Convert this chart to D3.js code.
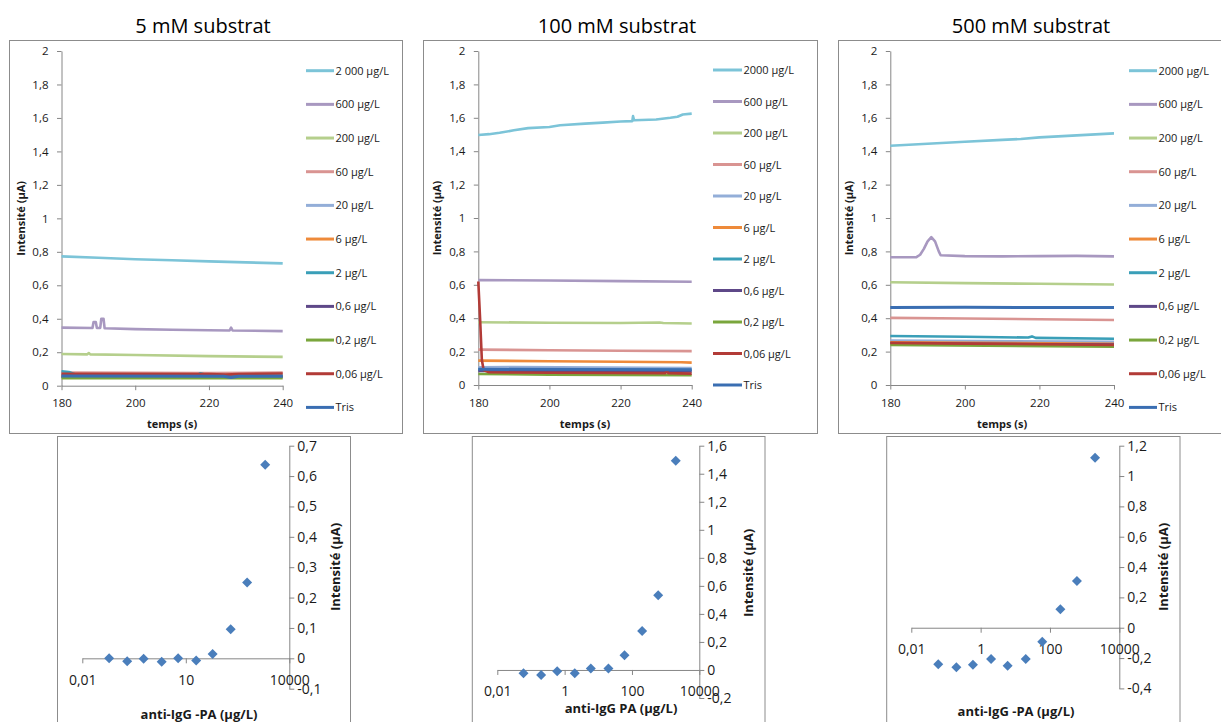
<!DOCTYPE html>
<html><head><meta charset="utf-8">
<script src="https://cdn.jsdelivr.net/npm/d3@7"></script>
<style>body{margin:0;background:#fff} svg{display:block;font-family:"Open Sans",sans-serif}</style>
</head><body><svg id="c" width="1221" height="722"></svg>
<script>
// ---------- DATA ----------
const legendLabels5 = ["2 000 µg/L","600 µg/L","200 µg/L","60 µg/L","20 µg/L","6 µg/L","2 µg/L","0,6 µg/L","0,2 µg/L","0,06 µg/L","Tris"];
const legendLabels = ["2000 µg/L","600 µg/L","200 µg/L","60 µg/L","20 µg/L","6 µg/L","2 µg/L","0,6 µg/L","0,2 µg/L","0,06 µg/L","Tris"];
const seriesColors = ["#7cc4d8","#a898c0","#b5cf8c","#d99492","#93aed8","#ee8a3a","#3a9fb8","#5e4888","#7aa63c","#b23b37","#3a6eb2"];
const yTicksTop = [0,0.2,0.4,0.6,0.8,1,1.2,1.4,1.6,1.8,2];
const xTicksTop = [180,200,220,240];

// 5 mM substrat : [temps (s), intensité (µA)]
const s5_2000 = [[180,0.773],[190,0.765],[200,0.756],[210,0.750],[220,0.743],[230,0.737],[240,0.731]];
const s5_600  = [[180,0.347],[188.4,0.345],[188.7,0.38],[189.3,0.38],[189.6,0.345],[190.5,0.345],[190.8,0.40],[191.4,0.40],[191.7,0.343],[200,0.338],[210,0.334],[220,0.331],[225.6,0.330],[226,0.347],[226.4,0.330],[240,0.326]];
const s5_200  = [[180,0.189],[187,0.187],[187.4,0.195],[187.8,0.187],[200,0.183],[220,0.177],[240,0.172]];
const s5_60   = [[180,0.078],[200,0.077],[220,0.076],[240,0.078]];
const s5_20   = [[180,0.064],[240,0.060]];
const s5_6    = [[180,0.061],[240,0.058]];
const s5_2    = [[180,0.086],[182,0.082],[184,0.066],[200,0.064],[216.8,0.062],[217.6,0.074],[219.4,0.064],[240,0.061]];
const s5_06   = [[180,0.054],[240,0.052]];
const s5_02   = [[180,0.045],[240,0.045]];
const s5_006  = [[180,0.071],[220,0.070],[224.5,0.066],[228,0.070],[240,0.073]];
const s5_tris = [[180,0.058],[224,0.056],[226,0.049],[228,0.056],[240,0.056]];

// 100 mM substrat
const s100_2000 = [[180,1.497],[183,1.502],[186,1.510],[190,1.525],[194,1.538],[200,1.545],[203,1.555],[210,1.565],[215,1.571],[220,1.578],[223.3,1.580],[223.5,1.610],[223.8,1.585],[230,1.590],[234,1.600],[236,1.606],[237.5,1.620],[240,1.625]];
const s100_600  = [[180,0.628],[200,0.626],[220,0.622],[240,0.618]];
const s100_200  = [[180,0.376],[200,0.373],[220,0.371],[231,0.374],[232,0.371],[240,0.368]];
const s100_60   = [[180,0.212],[200,0.208],[220,0.205],[240,0.203]];
const s100_20   = [[180,0.106],[190,0.108],[240,0.102]];
const s100_6    = [[180,0.146],[200,0.142],[220,0.139],[237,0.136],[240,0.134]];
const s100_2    = [[180,0.094],[240,0.090]];
const s100_06   = [[180,0.084],[240,0.081]];
const s100_02   = [[180,0.066],[200,0.062],[240,0.058]];
const s100_006  = [[180,0.620],[180.5,0.400],[181,0.150],[181.5,0.090],[183,0.076],[200,0.073],[232.6,0.071],[233,0.088],[233.4,0.071],[240,0.068]];
const s100_tris = [[180,0.094],[240,0.091]];

// 500 mM substrat
const s500_2000 = [[180,1.433],[190,1.445],[200,1.457],[210,1.468],[215,1.473],[220,1.483],[230,1.495],[240,1.507]];
const s500_600  = [[180,0.765],[187,0.766],[188,0.780],[189,0.815],[190,0.860],[191,0.885],[192,0.860],[193,0.800],[193.5,0.777],[200,0.772],[210,0.770],[220,0.772],[230,0.773],[240,0.770]];
const s500_200  = [[180,0.615],[200,0.610],[220,0.606],[240,0.602]];
const s500_60   = [[180,0.402],[200,0.398],[220,0.394],[240,0.389]];
const s500_20   = [[180,0.266],[240,0.258]];
const s500_6    = [[180,0.256],[240,0.247]];
const s500_2    = [[180,0.293],[200,0.289],[217,0.284],[218,0.291],[219,0.282],[240,0.277]];
const s500_06   = [[180,0.250],[240,0.242]];
const s500_02   = [[180,0.240],[240,0.229]];
const s500_006  = [[180,0.252],[200,0.248],[220,0.244],[240,0.240]];
const s500_tris = [[180,0.464],[200,0.465],[220,0.464],[240,0.464]];

// réponses (bas)
const concentrations = [0.06,0.2,0.6,2,6,20,60,200,600,2000];
const resp5   = [0,-0.010,-0.001,-0.011,0,-0.007,0.014,0.096,0.250,0.637];
const resp100 = [-0.024,-0.036,-0.010,-0.024,0.010,0.010,0.105,0.278,0.533,1.493];
const resp500 = [-0.241,-0.261,-0.244,-0.206,-0.250,-0.206,-0.092,0.121,0.308,1.121];
const yTicks5 = [-0.1,0,0.1,0.2,0.3,0.4,0.5,0.6,0.7];
const yTicks100 = [-0.2,0,0.2,0.4,0.6,0.8,1,1.2,1.4,1.6];
const yTicks500 = [-0.4,-0.2,0,0.2,0.4,0.6,0.8,1,1.2];
const xTicks5 = [0.01,10,10000];
const xTicks100 = [0.01,1,100,10000];

// ---------- DRAW ----------
const svg = d3.select("#c");
const fmt = d => String(+(+d).toFixed(2)).replace('.', ',');
const AX = "#868686";

function styleAxis(sel, fs){
  sel.select(".domain").attr("stroke", AX).attr("stroke-width",1);
  sel.selectAll(".tick line").attr("stroke", AX);
  sel.selectAll(".tick text").attr("fill","#1a1a1a").attr("font-size",fs).attr("font-family","'Open Sans',sans-serif");
}

function drawTop(c){
  const g = svg.append("g");
  g.append("rect").attr("x",c.frame[0]).attr("y",c.frame[1])
    .attr("width",c.frame[2]-c.frame[0]).attr("height",c.frame[3]-c.frame[1])
    .attr("fill","#fff").attr("stroke","#8c8c8c");
  svg.append("text").attr("x",c.titleX).attr("y",33).attr("text-anchor","middle")
    .attr("font-size",20).attr("fill","#000").text(c.title);
  const x = d3.scaleLinear().domain([180,240]).range([c.px0,c.px1]);
  const y = d3.scaleLinear().domain([0,2]).range([c.py0,c.py1]);
  const ya = g.append("g").attr("transform",`translate(${c.px0},0)`)
    .call(d3.axisLeft(y).tickValues(yTicksTop).tickFormat(fmt).tickSize(4.5).tickSizeOuter(0).tickPadding(8.5));
  styleAxis(ya, 11.5);
  const xa = g.append("g").attr("transform",`translate(0,${c.py0})`)
    .call(d3.axisBottom(x).tickValues(xTicksTop).tickSize(4.5).tickSizeOuter(0).tickPadding(9));
  styleAxis(xa, 11.5);
  const line = d3.line().x(d=>x(d[0])).y(d=>y(d[1]));
  c.series.forEach((s,i)=>{
    g.append("path").attr("d",line(s)).attr("fill","none")
      .attr("stroke",seriesColors[i]).attr("stroke-width", i===10?3:2.6)
      .attr("stroke-linejoin","round");
  });
  c.labels.forEach((lab,i)=>{
    const ly = c.ly0 + i*c.lstep;
    g.append("line").attr("x1",c.lx0).attr("x2",c.lx1).attr("y1",ly).attr("y2",ly)
      .attr("stroke",seriesColors[i]).attr("stroke-width",3);
    g.append("text").attr("x",c.lx1+1.5).attr("y",ly+4).attr("font-size",11)
      .attr("fill","#1a1a1a").text(lab);
  });
  g.append("text").attr("x",(c.px0+c.px1)/2).attr("y",428).attr("text-anchor","middle")
    .attr("font-size",11).attr("font-weight","bold").attr("fill","#1a1a1a").text("temps (s)");
  g.append("text").attr("transform",`translate(${c.px0-37},${(c.py0+c.py1)/2}) rotate(-90)`)
    .attr("text-anchor","middle").attr("font-size",11).attr("font-weight","bold")
    .attr("fill","#1a1a1a").text("Intensité (µA)");
}

drawTop({frame:[9.5,40.5,402.5,433.5], title:"5 mM substrat", titleX:203,
  px0:61.5, px1:282.7, py0:385.7, py1:51, lx0:306, lx1:334, ly0:70.7, lstep:33.67,
  labels:legendLabels5,
  series:[s5_2000,s5_600,s5_200,s5_60,s5_20,s5_6,s5_2,s5_06,s5_02,s5_006,s5_tris]});
drawTop({frame:[423.5,40.5,817.5,433.5], title:"100 mM substrat", titleX:617,
  px0:478.3, px1:691.7, py0:385, py1:51, lx0:713, lx1:742, ly0:70, lstep:31.5,
  labels:legendLabels,
  series:[s100_2000,s100_600,s100_200,s100_60,s100_20,s100_6,s100_2,s100_06,s100_02,s100_006,s100_tris]});
drawTop({frame:[838.5,40.5,1225,433.5], title:"500 mM substrat", titleX:1031,
  px0:890.3, px1:1114, py0:385, py1:51, lx0:1129, lx1:1157, ly0:70.7, lstep:33.67,
  labels:legendLabels,
  series:[s500_2000,s500_600,s500_200,s500_60,s500_20,s500_6,s500_2,s500_06,s500_02,s500_006,s500_tris]});

function drawBottom(c){
  const g = svg.append("g");
  g.append("rect").attr("x",c.frame[0]).attr("y",436.5).attr("width",c.frame[1]-c.frame[0])
    .attr("height",300).attr("fill","#fff").attr("stroke","#8c8c8c");
  const x = d3.scaleLog().base(c.base).domain([0.01,10000]).range([c.px0,c.px1]);
  const y = d3.scaleLinear().domain(c.ydom).range([c.py0,c.py1]);
  const ya = g.append("g").attr("transform",`translate(${c.px1},0)`)
    .call(d3.axisRight(y).tickValues(c.yticks).tickFormat(fmt).tickSize(5).tickSizeOuter(0).tickPadding(3));
  styleAxis(ya, 14);
  const xa = g.append("g").attr("transform",`translate(0,${y(0)})`)
    .call(d3.axisBottom(x).tickValues(c.xticks).tickFormat(fmt).tickSize(5).tickSizeOuter(0).tickPadding(11.5));
  styleAxis(xa, 14);
  const sym = d3.symbol().type(d3.symbolSquare).size(50);
  g.selectAll("path.pt").data(concentrations).enter().append("path").attr("class","pt")
    .attr("d",sym()).attr("fill","#4a7ebb")
    .attr("transform",(d,i)=>`translate(${x(d)},${y(c.resp[i])}) rotate(45)`);
  g.append("text").attr("transform",`translate(${c.ytx},${c.yty}) rotate(-90)`)
    .attr("text-anchor","middle").attr("font-size",13).attr("font-weight","bold")
    .attr("fill","#1a1a1a").text("Intensité (µA)");
  g.append("text").attr("x",c.xtx).attr("y",c.xty).attr("text-anchor","middle")
    .attr("font-size",13).attr("font-weight","bold").attr("fill","#1a1a1a").text(c.xtitle);
}

drawBottom({frame:[57.5,350.5], base:1000, px0:82.3, px1:289.3, ydom:[-0.1,0.7], py0:688.7, py1:445.7,
  yticks:yTicks5, xticks:xTicks5, resp:resp5, ytx:340, yty:567, xtx:199, xty:718.5, xtitle:"anti-IgG -PA (µg/L)"});
drawBottom({frame:[472.3,765], base:100, px0:497.3, px1:699.3, ydom:[-0.2,1.6], py0:698, py1:445.7,
  yticks:yTicks100, xticks:xTicks100, resp:resp100, ytx:753, yty:573, xtx:621, xty:713, xtitle:"anti-IgG PA (µg/L)"});
drawBottom({frame:[886.7,1180], base:100, px0:911.3, px1:1119.3, ydom:[-0.4,1.2], py0:688.4, py1:445.7,
  yticks:yTicks500, xticks:xTicks100, resp:resp500, ytx:1168, yty:567, xtx:1016, xty:715.5, xtitle:"anti-IgG -PA (µg/L)"});
</script>
</body></html>
